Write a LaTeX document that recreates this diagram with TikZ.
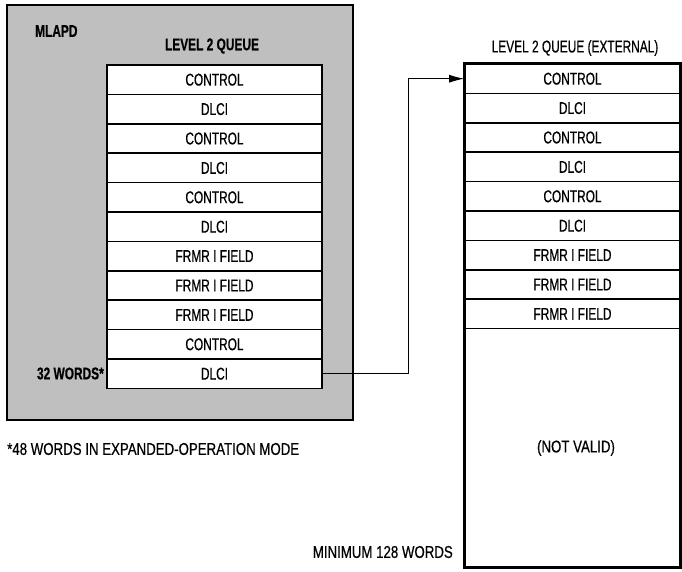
\documentclass[tikz,border=0pt]{standalone}
\usepackage{fontspec}
\setmainfont{Liberation Sans}[FakeStretch=0.7, FakeBold=0.5]
\newfontfamily\widefont{Liberation Sans}[FakeStretch=0.78, FakeBold=0.5]
\usepackage{tikz}
\usetikzlibrary{positioning,calc,arrows.meta}

\begin{document}
\begin{tikzpicture}[
    x=1pt, y=-1pt,
    font=\fontsize{17}{20}\selectfont,
    cell/.style={draw, fill=white, line width=1.6pt, minimum width=215pt, minimum height=29.4pt, inner sep=0pt},
    shade/.style={draw, fill=black!25, line width=2pt, minimum width=346pt, minimum height=415pt, inner sep=0pt},
    outer/.style={draw, line width=1.8pt, minimum width=215pt, minimum height=503pt, inner sep=0pt},
    lbl/.style={inner sep=0pt},
    wide/.style={font=\fontsize{17}{20}\selectfont\widefont},
    bold/.style={font=\fontsize{17}{20}\selectfont\bfseries},
    conn/.style={line width=1pt, -{Latex[length=15pt, width=8pt]}},
]
\useasboundingbox (0,0) rectangle (682,572);
% internal queue inside the MLAPD
\node[shade] (mlapd) at (180, 212.5) {};
\node[lbl, bold, anchor=west] (mlapdtxt) at (35, 31) {MLAPD};
\node[lbl, bold] (qin) at (212, 46) {LEVEL 2 QUEUE};
\foreach \i/\t in {1/CONTROL, 2/DLCI, 3/CONTROL, 4/DLCI, 5/CONTROL, 6/DLCI,
                   7/FRMR I FIELD, 8/FRMR I FIELD, 9/FRMR I FIELD, 10/CONTROL, 11/DLCI} {
  \node[cell] (l\i) at (214.5, 65+29.4*\i-14.7) {\t};
}
\node[lbl, bold, anchor=east] (words) at (104, 373.5) {32 WORDS*};
\node[lbl, wide, anchor=west] (note) at (7, 449) {*48 WORDS IN EXPANDED-OPERATION MODE};
% external queue
\node[outer] (ext) at (572.5, 315.5) {};
\node[lbl] (qext) at (575, 48) {LEVEL 2 QUEUE (EXTERNAL)};
\foreach \i/\t in {1/CONTROL, 2/DLCI, 3/CONTROL, 4/DLCI, 5/CONTROL, 6/DLCI,
                   7/FRMR I FIELD, 8/FRMR I FIELD, 9/FRMR I FIELD} {
  \node[cell] (r\i) at (572.5, 64+29.4*\i-14.7) {\t};
}
\draw[line width=1.8pt] (ext.north west) rectangle (ext.south east);
\node[lbl, wide] (invalid) at (576, 448) {(NOT VALID)};
\node[lbl, wide, anchor=east] (minw) at (453, 552) {MINIMUM 128 WORDS};
% pointer
\coordinate (turn) at (408, 0);
\draw[conn] (l11.east) -| (turn |- r1.west) -- (r1.west);
\end{tikzpicture}
\end{document}
